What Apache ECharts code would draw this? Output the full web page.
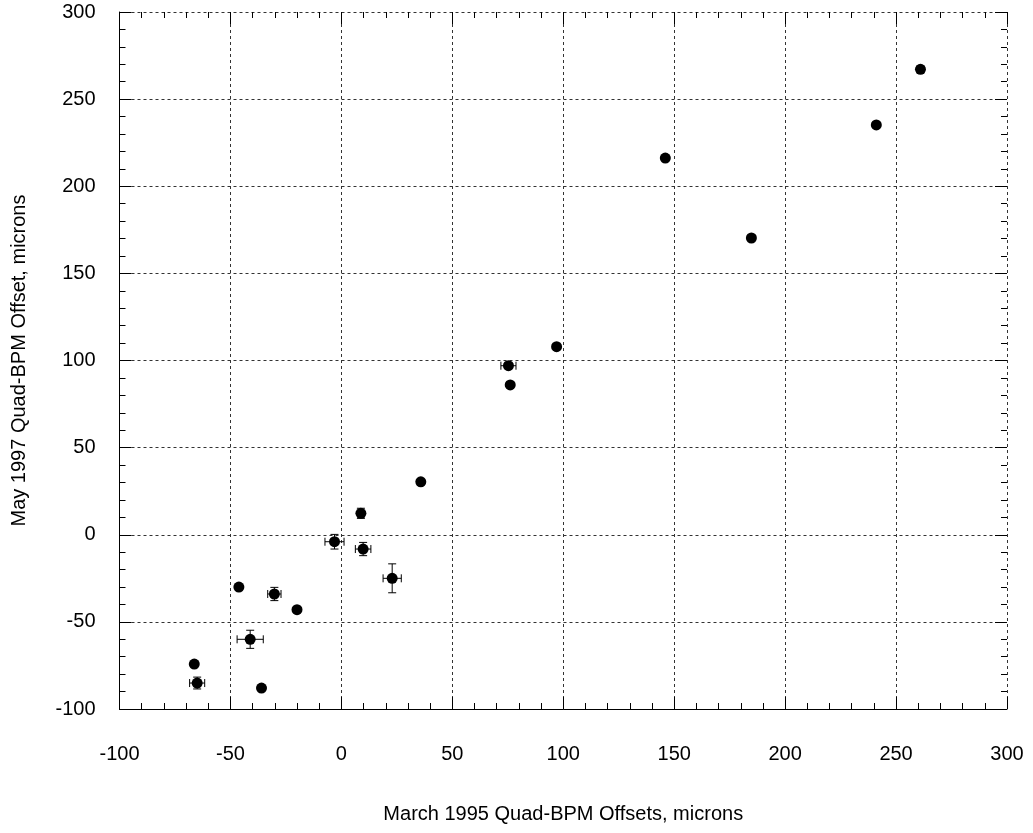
<!DOCTYPE html>
<html>
<head>
<meta charset="utf-8">
<script src="https://cdn.jsdelivr.net/npm/echarts@6/dist/echarts.min.js"></script>
<style>html,body{margin:0;padding:0;background:#fff}#c{width:1033px;height:833px}</style>
</head>
<body>
<div id="c"></div>
<script>
const xVals = [-46.2, -30.2, -20, -41.1, -66.3, -65, -36, 22.9, 8.8, -3.1, 9.8, 35.8, 97, 75.3, 76.1, 261, 241.1, 146, 184.8];
const yVals = [-30, -34, -43, -60, -74.2, -85.1, -88, -25, 12.3, -4, -8.2, 30.4, 107.9, 97, 86, 267.1, 235.2, 216.2, 170.3];
const xErr  = [0, 3, 0, 5.9, 0, 3.4, 0, 4.1, 1, 4.3, 3.5, 0, 1, 3.4, 0, 1.5, 0, 0, 0];
const yErr  = [0, 3.8, 0, 5.2, 0, 3.4, 0, 8.3, 2.9, 4.2, 3.8, 0, 1, 1.5, 0, 1.5, 0, 0, 0];
const xTicks = [-100, -50, 0, 50, 100, 150, 200, 250, 300];
const yTicks = [-100, -50, 0, 50, 100, 150, 200, 250, 300];
const xTitle = 'March 1995 Quad-BPM Offsets, microns';
const yTitle = 'May 1997 Quad-BPM Offset, microns';

const pts = xVals.map((x, i) => [x, yVals[i], xErr[i], yErr[i]]);
const font = 'Liberation Sans, Arial, sans-serif';
const grid = {left: 119.5, right: 26, top: 12, bottom: 124};
const gridLine = {show: true, lineStyle: {color: '#333', type: [3, 3], width: 1}};
function axisBase(pos, isX, main) {
  const ticks = isX ? xTicks : yTicks;
  return {
    type: 'value', position: pos,
    min: ticks[0], max: ticks[ticks.length - 1], interval: 50,
    axisLine: {show: main, onZero: false, lineStyle: {color: '#000', width: 1}},
    axisTick: {show: true, inside: true, length: 12, lineStyle: {color: '#000'}},
    minorTick: {show: true, splitNumber: 5, length: 6, lineStyle: {color: '#000'}},
    axisLabel: {show: main, color: '#000', fontSize: 20, fontFamily: font, margin: isX ? 35 : 24},
    splitLine: main ? gridLine : {show: false}
  };
}
const xMain = Object.assign(axisBase('bottom', true, true), {
  name: xTitle, nameLocation: 'middle', nameGap: 95,
  nameTextStyle: {color: '#000', fontSize: 20, fontFamily: font}
});
const yMain = Object.assign(axisBase('left', false, true), {
  name: yTitle, nameLocation: 'middle', nameGap: 90,
  nameTextStyle: {color: '#000', fontSize: 20, fontFamily: font}
});
const chart = echarts.init(document.getElementById('c'), null, {renderer: 'canvas'});
chart.setOption({
  animation: false,
  backgroundColor: '#fff',
  grid: grid,
  xAxis: [xMain, axisBase('top', true, false)],
  yAxis: [yMain, axisBase('right', false, false)],
  series: [
    {
      type: 'custom',
      xAxisIndex: 0, yAxisIndex: 0,
      data: pts,
      z: 3,
      renderItem: function (params, api) {
        const x = api.value(0), y = api.value(1), ex = api.value(2), ey = api.value(3);
        const children = [];
        const cap = 4;
        if (ex > 0) {
          const a = api.coord([x - ex, y]), b = api.coord([x + ex, y]);
          children.push({type: 'line', shape: {x1: a[0], y1: a[1], x2: b[0], y2: b[1]}, style: {stroke: '#000', lineWidth: 1}});
          children.push({type: 'line', shape: {x1: a[0], y1: a[1] - cap, x2: a[0], y2: a[1] + cap}, style: {stroke: '#000', lineWidth: 1}});
          children.push({type: 'line', shape: {x1: b[0], y1: b[1] - cap, x2: b[0], y2: b[1] + cap}, style: {stroke: '#000', lineWidth: 1}});
        }
        if (ey > 0) {
          const a = api.coord([x, y - ey]), b = api.coord([x, y + ey]);
          children.push({type: 'line', shape: {x1: a[0], y1: a[1], x2: b[0], y2: b[1]}, style: {stroke: '#000', lineWidth: 1}});
          children.push({type: 'line', shape: {x1: a[0] - cap, y1: a[1], x2: a[0] + cap, y2: a[1]}, style: {stroke: '#000', lineWidth: 1}});
          children.push({type: 'line', shape: {x1: b[0] - cap, y1: b[1], x2: b[0] + cap, y2: b[1]}, style: {stroke: '#000', lineWidth: 1}});
        }
        return {type: 'group', children: children};
      }
    },
    {
      type: 'scatter',
      xAxisIndex: 0, yAxisIndex: 0,
      data: pts.map(p => [p[0], p[1]]),
      symbol: 'circle', symbolSize: 11,
      itemStyle: {color: '#000', opacity: 1},
      z: 4
    }
  ]
});
</script>
</body>
</html>
